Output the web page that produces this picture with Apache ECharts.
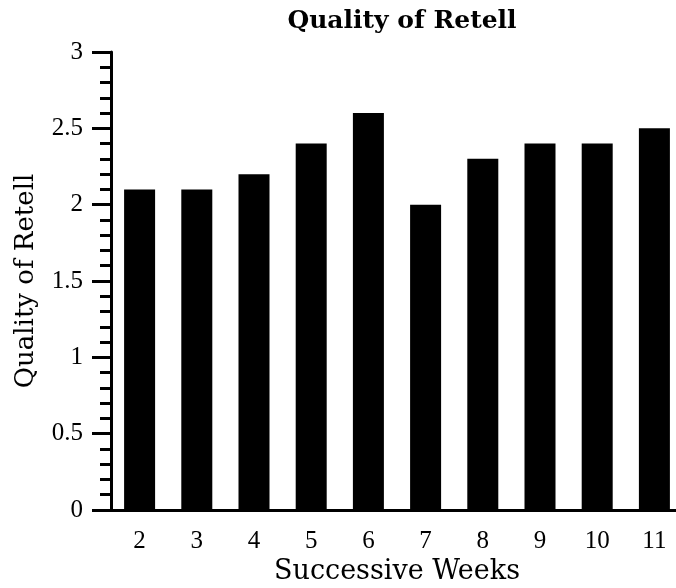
<!DOCTYPE html>
<html>
<head>
<meta charset="utf-8">
<script src="https://cdn.jsdelivr.net/npm/echarts@6/dist/echarts.min.js"></script>
<style>
    html,body{margin:0;padding:0;background:#fff;}
    #chart{width:676px;height:588px;}
</style>
</head>
<body>
<div id="chart"></div>
<script>
// data
var weeks = ['2','3','4','5','6','7','8','9','10','11']
var retell = [2.1, 2.1, 2.2, 2.4, 2.6, 2.0, 2.3, 2.4, 2.4, 2.5]
var yTicks = [0, 0.5, 1, 1.5, 2, 2.5, 3]

var labelFont = 'Liberation Serif'
var nameFont = 'DejaVu Serif'

var myChart = echarts.init(document.getElementById('chart'))
var option = {
    animation:false,
    backgroundColor:'#fff',
    title:{
        text:'Quality of Retell',
        left:397,
        textAlign:'center',
        top:4,
        textStyle:{
            fontFamily:nameFont,
            fontWeight:'bold',
            fontSize:25,
            color:'#000'
        }
    },
    grid:{
        left:111,
        top:52,
        width:572,
        bottom:78,
        outerBoundsMode:'none'
    },
    xAxis:{
        type:'category',
        data:weeks,
        name:'Successive Weeks',
        nameLocation:'middle',
        nameGap:46,
        nameTextStyle:{fontFamily:nameFont,fontSize:27,color:'#000'},
        axisLine:{lineStyle:{color:'#000',width:3}},
        axisTick:{alignWithLabel:true,length:18,lineStyle:{width:3,color:'#000'}},
        axisLabel:{margin:19,fontFamily:labelFont,fontSize:25,color:'#000'}
    },
    yAxis:{
        type:'value',
        min:yTicks[0],
        max:yTicks[yTicks.length-1],
        interval:0.5,
        name:'Quality of Retell',
        nameLocation:'middle',
        nameGap:72,
        nameTextStyle:{fontFamily:nameFont,fontSize:26,color:'#000'},
        splitLine:{show:false},
        axisLine:{show:true,lineStyle:{color:'#000',width:3}},
        axisTick:{show:true,length:19,lineStyle:{width:3,color:'#000'}},
        minorTick:{show:true,splitNumber:5,length:11,lineStyle:{width:3,color:'#000'}},
        axisLabel:{
            margin:28,
            fontFamily:labelFont,
            fontSize:25,
            color:'#000',
            formatter:function(v){return String(v)}
        }
    },
    series:[{
        type:'bar',
        data:retell,
        barWidth:31,
        itemStyle:{color:'#000'}
    }]
}
myChart.setOption(option)
</script>
</body>
</html>
